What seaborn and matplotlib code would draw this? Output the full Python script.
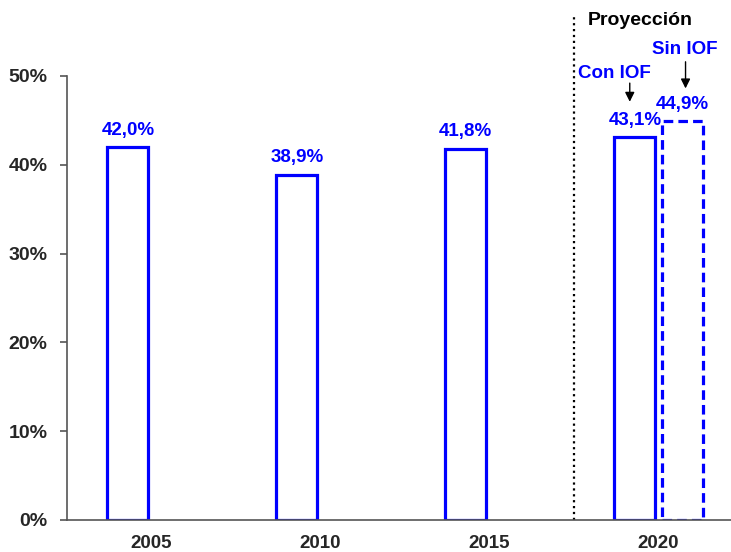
import matplotlib
matplotlib.use("Agg")
import matplotlib.pyplot as plt
import numpy as np
import pandas as pd
import seaborn as sns

# data
years = ["2005", "2010", "2015", "2020"]
con_iof = [42.0, 38.9, 41.8, 43.1]
sin_iof = [np.nan, np.nan, np.nan, 44.9]
con_labels = ["42,0%", "38,9%", "41,8%", "43,1%"]
sin_labels = ["44,9%"]
y_ticks = [0, 10, 20, 30, 40, 50]

blue = "#0000FF"

sns.set_style("white")
plt.rcParams["font.family"] = ["Liberation Sans", "DejaVu Sans"]
plt.rcParams["font.weight"] = "bold"

df = pd.DataFrame({
    "year": years * 2,
    "serie": ["Con IOF"] * 4 + ["Sin IOF"] * 4,
    "valor": con_iof + sin_iof,
}).dropna()

fig = plt.figure(figsize=(7.31, 5.52), dpi=100)
ax = fig.add_axes([67 / 731, 32 / 552, 676 / 731, 444 / 552])

sns.barplot(data=df, x="year", y="valor", hue="serie", order=years,
            hue_order=["Con IOF", "Sin IOF"], width=0.56, gap=0.14,
            palette=["white", "white"], edgecolor=blue, linewidth=2.3,
            legend=False, ax=ax)

# dashed outline for the "sin IOF" projection
for p in ax.containers[1]:
    p.set_linestyle((0, (3, 1.6)))

ax.bar_label(ax.containers[0], labels=con_labels, padding=6, color=blue,
             fontsize=13.5, fontweight="bold")
ax.bar_label(ax.containers[1], labels=sin_labels, padding=6, color=blue,
             fontsize=13.5, fontweight="bold")

ax.set_ylim(0, 50)
ax.set_xlim(-0.5, 3.5)
ax.set_yticks(y_ticks)
ax.set_yticklabels([f"{v}%" for v in y_ticks], fontsize=14, fontweight="bold")
ax.set_xticks(range(len(years)))
ax.set_xticklabels(years, fontsize=13.5, fontweight="bold")
ax.set_xticks(np.arange(-0.5, 4.0, 1.0), minor=True)
ax.tick_params(axis="x", which="major", length=0, pad=10.5)
ax.tick_params(axis="x", which="minor", length=5, width=1.2, color="#555555",
               direction="out")
ax.tick_params(axis="y", length=5, width=1.2, color="#555555", direction="out",
               left=True, pad=9)
ax.set_xlabel("")
ax.set_ylabel("")

sns.despine(ax=ax, top=True, right=True)
for s in ["left", "bottom"]:
    ax.spines[s].set_color("#555555")
    ax.spines[s].set_linewidth(1.2)

# projection divider and notes
ax.vlines(2.5, 0, 56.6, colors="black", linestyles=":", linewidth=1.6,
          clip_on=False)
ax.text(2.58, 56.3, "Proyección", fontsize=14, fontweight="bold",
        color="black", ha="left", va="center")

con_x = ax.containers[0][3].get_x() + ax.containers[0][3].get_width() / 2
sin_x = ax.containers[1][0].get_x() + ax.containers[1][0].get_width() / 2
ax.text(con_x - 0.12, 50.3, "Con IOF", fontsize=13.5, fontweight="bold",
        color=blue, ha="center", va="center")
ax.text(sin_x + 0.015, 53.0, "Sin IOF", fontsize=13.5, fontweight="bold",
        color=blue, ha="center", va="center")
arrow = dict(arrowstyle="-|>", color="black", lw=1.0, mutation_scale=14,
             shrinkA=0, shrinkB=0)
ax.annotate("", xy=(con_x - 0.03, 47.1), xytext=(con_x - 0.03, 49.2),
            arrowprops=arrow, annotation_clip=False)
ax.annotate("", xy=(sin_x + 0.02, 48.6), xytext=(sin_x + 0.02, 51.6),
            arrowprops=arrow, annotation_clip=False)

fig.savefig("out.png", dpi=100)
